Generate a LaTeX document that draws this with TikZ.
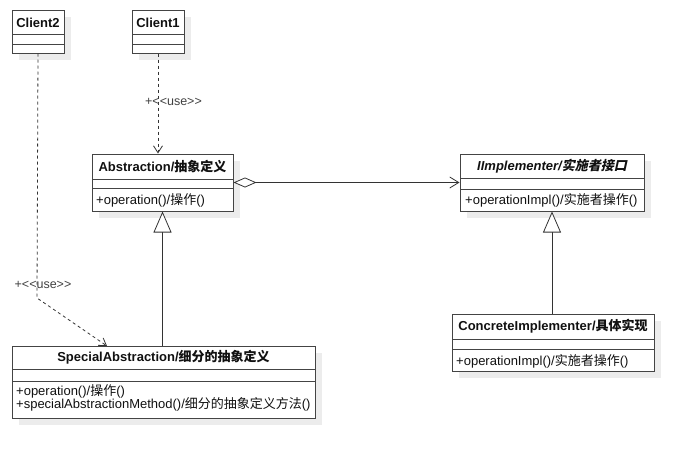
\documentclass[tikz,border=0pt]{standalone}
\usepackage{fontspec}
\setmainfont{Liberation Sans}
\newfontfamily\cjk{Noto Sans CJK SC}
\newfontfamily\cjkit[FakeSlant=0.22]{Noto Sans CJK SC}
\usetikzlibrary{arrows.meta,fit}
\definecolor{shadowc}{HTML}{ECECEC}
\definecolor{borderc}{HTML}{444444}
\definecolor{linec}{HTML}{333333}
\definecolor{textc}{HTML}{111111}
\tikzset{
  every node/.style={font=\fontsize{13}{12}\selectfont, text=textc, inner sep=0pt},
  classbox/.style={draw=borderc, line width=1pt, fill=white, inner sep=0pt},
  shadowbox/.style={fill=shadowc},
  sepline/.style={draw=borderc, line width=1pt},
  ttl/.style={font=\fontsize{13}{12}\selectfont\bfseries},
  mbr/.style={anchor=west},
  conn/.style={draw=linec, line width=0.8pt},
  dep/.style={conn, dash pattern=on 3pt off 3pt, -{Straight Barb[length=7pt,width=9pt]}},
  usel/.style={font=\fontsize{12.5}{12}\selectfont, text=textc!80!white},
  gen/.style={conn, -{Triangle[open,length=21pt,width=18pt,fill=white]}},
  agg/.style={conn, {Diamond[open,length=23pt,width=10pt,fill=white]}-{Straight Barb[length=9pt,width=11pt]}},
}
\begin{document}
\begin{tikzpicture}[x=1pt,y=-1pt]
\useasboundingbox (0,0) rectangle (694,458);
% shadows
\fill[shadowbox] (19,17) rectangle (71,60);
\fill[shadowbox] (139,17) rectangle (191,60);
\fill[shadowbox] (99,161) rectangle (240,218);
\fill[shadowbox] (467,161) rectangle (651,218);
\fill[shadowbox] (19,353) rectangle (322,425);
\fill[shadowbox] (459,321) rectangle (661,378);
% boxes
\node[classbox, fit={(12,10) (64,53)}] (c2) {};
\node[classbox, fit={(132,10) (184,53)}] (c1) {};
\node[classbox, fit={(92,154) (233,211)}] (abs) {};
\node[classbox, fit={(460,154) (644,211)}] (impl) {};
\node[classbox, fit={(12,346) (315,418)}] (spec) {};
\node[classbox, fit={(452,314) (654,371)}] (conc) {};
% compartments
\draw[sepline] (12,34) -- (64,34) (12,44) -- (64,44);
\draw[sepline] (132,34) -- (184,34) (132,44) -- (184,44);
\draw[sepline] (92,179) -- (233,179) (92,188) -- (233,188);
\draw[sepline] (460,178) -- (644,178) (460,189) -- (644,189);
\draw[sepline] (12,369) -- (315,369) (12,381) -- (315,381);
\draw[sepline] (452,339) -- (654,339) (452,349) -- (654,349);
% texts
\node[ttl] (c2t) at (38,22.5) {Client2};
\node[ttl] (c1t) at (158,22.5) {Client1};
\node[ttl] (abst) at (162.5,166.5) {Abstraction/{\cjk 抽象定义}};
\node[mbr] (absm) at (96,200) {+operation()/{\cjk 操作}()};
\node[ttl] (implt) at (552,166) {\itshape IImplementer/{\cjkit 实施者接口}};
\node[mbr] (implm) at (465,200) {+operationImpl()/{\cjk 实施者操作}()};
\node[ttl] (spect) at (163.5,357.5) {SpecialAbstraction/{\cjk 细分的抽象定义}};
\node[mbr] (specm1) at (16,391) {+operation()/{\cjk 操作}()};
\node[mbr] (specm2) at (16,404.5) {+specialAbstractionMethod()/{\cjk 细分的抽象定义方法}()};
\node[ttl] (conct) at (553,326.5) {ConcreteImplementer/{\cjk 具体实现}};
\node[mbr] (concm) at (456,361.5) {+operationImpl()/{\cjk 实施者操作}()};
% connectors
\draw[agg] (abs.east) -- (impl.west);
\draw[gen] (spec.north -| abs.south) -- (abs.south);
\draw[gen] (conc.north -| impl.south) -- (impl.south);
\draw[dep] (c1.south) -- (abs.north -| c1.south);
\coordinate (bend) at (37,298);
\coordinate (c2end) at (107,346);
\draw[dep] (c2.south) -- (bend) -- (c2end);
\node[usel] (use1) at (173.5,102) {+<{}<use>{}>};
\node[usel] (use2) at (43,285) {+<{}<use>{}>};
\end{tikzpicture}
\end{document}
